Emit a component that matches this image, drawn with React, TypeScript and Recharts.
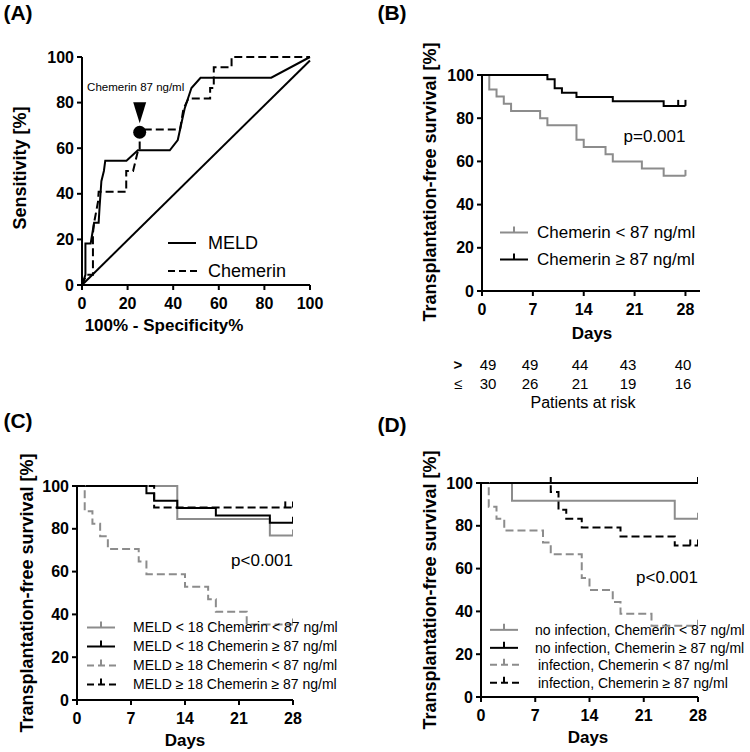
import {
  ComposedChart,
  Line,
  XAxis,
  YAxis,
  Scatter,
  ReferenceLine,
  ReferenceDot,
  Legend,
} from "recharts";

const FONT = "Arial, 'Liberation Sans', Helvetica, sans-serif";
const GRAY = "#8c8c8c";
const DASH = "8 4";

// (A) ROC curves, x = 100% - specificity, y = sensitivity
const meldFpr = [0, 1.5, 1.5, 3.8, 5.3, 7.3, 7.7, 8.5, 9.6, 10.2, 19.5, 24.5, 38.5, 42, 45, 48, 52, 83, 100];
const meldTpr = [0, 4.5, 18.2, 18.2, 27.3, 27.3, 34, 45.5, 50, 54.5, 54.5, 59.1, 59.1, 63.6, 77.3, 86.4, 90.9, 90.9, 100];
const chemFpr = [0, 2, 4.8, 4.8, 5.3, 7, 7.3, 19.4, 19.4, 22.4, 23.5, 24.6, 25.3, 25.3, 43, 44.5, 46.7, 56.2, 56.2, 57.8, 57.8, 65.6, 65.6, 100];
const chemTpr = [0, 4.5, 4.5, 22.7, 27.3, 36.4, 40.9, 40.9, 50, 50, 54.5, 59.1, 59.1, 68.2, 68.2, 77.3, 81.8, 81.8, 86.4, 86.4, 95.5, 95.5, 100, 100];
const cutoffFpr = [25.3];
const cutoffTpr = [67];
const rocTicks = [0, 20, 40, 60, 80, 100];

// (B) Kaplan-Meier by chemerin cut-off
const bLowDays = [0, 1, 2, 3, 4, 8, 9, 13, 14, 17, 18, 22, 25, 28];
const bLowSurv = [100, 93.3, 90, 86.7, 83.3, 80, 76.7, 70, 66.7, 63.3, 60, 56.7, 53.3, 53.3];
const bLowCensor = [28];
const bHighDays = [0, 9, 10, 11, 13, 18, 25, 27, 28];
const bHighSurv = [100, 98, 93.9, 91.8, 89.8, 87.8, 85.7, 85.7, 85.7];
const bHighCensor = [27, 28];
const riskAbove = [49, 49, 44, 43, 40];
const riskBelow = [30, 26, 21, 19, 16];

// (C) by MELD and chemerin
const c1Days = [0, 13, 25, 28];
const c1Surv = [100, 84.6, 76.9, 76.9];
const c2Days = [0, 9, 10, 13, 18, 25, 28];
const c2Surv = [100, 96.6, 93.1, 89.7, 86.2, 82.8, 82.8];
const c3Days = [0, 1, 2, 3, 4, 8, 9, 14, 17, 18, 22, 28];
const c3Surv = [100, 88.2, 82.4, 76.5, 70.6, 64.7, 58.8, 52.9, 47.1, 41.2, 35.3, 35.3];
const c4Days = [0, 10, 27, 28];
const c4Surv = [100, 90, 90, 90];

// (D) by infection and chemerin
const d1Days = [0, 4, 25, 28];
const d1Surv = [100, 91.7, 83.3, 83.3];
const d2Days = [0, 9, 28];
const d2Surv = [100, 100, 100];
const d3Days = [0, 1, 2, 3, 8, 9, 13, 14, 17, 18, 22, 28];
const d3Surv = [100, 88.9, 83.3, 77.8, 72.2, 66.7, 55.6, 50, 44.4, 38.9, 33.3, 33.3];
const d4Days = [0, 9, 10, 11, 13, 18, 25, 27, 28];
const d4Surv = [100, 95.8, 87.5, 83.3, 79.2, 75, 70.8, 70.8, 70.8];

const dayTicks = [0, 7, 14, 21, 28];
const survTicks = [0, 20, 40, 60, 80, 100];

type KmPoint = { day: number; s: number; c: boolean };

const toKm = (days: number[], surv: number[], censored: number[]): KmPoint[] =>
  days.map((d, i) => ({ day: d, s: surv[i], c: censored.includes(d) }));

const toRoc = (xs: number[], ys: number[]) => xs.map((x, i) => ({ x, y: ys[i] }));

const axisLine = { stroke: "#000", strokeWidth: 2 };
const tickStyle = { fill: "#000", fontSize: 16, fontWeight: 700, fontFamily: FONT };

type Series = { data: KmPoint[]; color: string; dashed?: boolean; label: string };

type LegendOpts = {
  left: number;
  top: number;
  rowHeight: number;
  fontSize: number;
  gap: number;
  tick: boolean;
  indent?: number[];
};

function renderLegend(items: { label: string; color: string; dashed?: boolean }[], o: LegendOpts) {
  return () => (
    <div style={{ fontFamily: FONT, fontSize: o.fontSize, color: "#000" }}>
      {items.map((it, i) => (
        <div key={it.label} style={{ display: "flex", alignItems: "center", height: o.rowHeight }}>
          <svg width={30} height={o.rowHeight} style={{ display: "block" }}>
            <line
              x1={0}
              x2={it.dashed ? 30 : 28}
              y1={o.rowHeight / 2}
              y2={o.rowHeight / 2}
              stroke={it.color}
              strokeWidth={2}
              strokeDasharray={it.dashed ? "7 4" : undefined}
            />
            {o.tick && (
              <line
                x1={14}
                x2={14}
                y1={o.rowHeight / 2}
                y2={o.rowHeight / 2 - 6}
                stroke={it.color}
                strokeWidth={2}
              />
            )}
          </svg>
          <span style={{ marginLeft: o.gap + (o.indent ? o.indent[i] : 0), whiteSpace: "nowrap", lineHeight: 1 }}>
            {it.label}
          </span>
        </div>
      ))}
    </div>
  );
}

const censorDot = (color: string) => (props: any) => {
  const { cx, cy, payload, index } = props;
  if (!payload || !payload.c) return <g key={`n-${index}`} />;
  return <line key={`c-${index}`} x1={cx} x2={cx} y1={cy} y2={cy - 6} stroke={color} strokeWidth={2} />;
};

function KmPanel(props: {
  left: number;
  top: number;
  width: number;
  height: number;
  margin: { top: number; right: number; bottom: number; left: number };
  xMax: number;
  series: Series[];
  pText: string;
  pY: number;
  legend: LegendOpts;
}) {
  const { left, top, width, height, margin, xMax, series, pText, pY, legend } = props;
  return (
    <div style={{ position: "absolute", left, top }}>
      <ComposedChart width={width} height={height} margin={margin}>
        <XAxis
          type="number"
          dataKey="day"
          domain={[0, xMax]}
          ticks={dayTicks}
          axisLine={axisLine}
          tickLine={axisLine}
          tickSize={5}
          tickMargin={8}
          tick={tickStyle}
          height={30}
          allowDataOverflow
        />
        <YAxis
          type="number"
          domain={[0, 100]}
          ticks={survTicks}
          axisLine={axisLine}
          tickLine={axisLine}
          tickSize={5}
          tickMargin={3}
          tick={tickStyle}
          width={50}
        />
        {series.map((s) => (
          <Line
            key={s.label}
            data={s.data}
            dataKey="s"
            type="stepAfter"
            stroke={s.color}
            strokeWidth={2}
            strokeDasharray={s.dashed ? DASH : undefined}
            dot={censorDot(s.color)}
            activeDot={false}
            isAnimationActive={false}
          />
        ))}
        <ReferenceDot
          x={28}
          y={pY}
          r={0}
          shape={(p: any) => (
            <text
              x={p.cx}
              y={p.cy}
              textAnchor="end"
              dominantBaseline="middle"
              fontFamily={FONT}
              fontSize={17}
              fill="#000"
            >
              {pText}
            </text>
          )}
        />
        <Legend
          layout="vertical"
          align="center"
          verticalAlign="middle"
          wrapperStyle={{ left: legend.left, top: legend.top, width: "auto" }}
          content={renderLegend(series, legend)}
        />
      </ComposedChart>
    </div>
  );
}

function RocPanel() {
  const meld = toRoc(meldFpr, meldTpr);
  const chem = toRoc(chemFpr, chemTpr);
  const cutoff = toRoc(cutoffFpr, cutoffTpr);
  return (
    <div style={{ position: "absolute", left: 0, top: 0 }}>
      <ComposedChart width={340} height={320} margin={{ top: 57, right: 30, bottom: 5, left: 32 }}>
        <XAxis
          type="number"
          dataKey="x"
          domain={[0, 100]}
          ticks={rocTicks}
          axisLine={axisLine}
          tickLine={axisLine}
          tickSize={5}
          tickMargin={8}
          tick={tickStyle}
          height={30}
        />
        <YAxis
          type="number"
          domain={[0, 100]}
          ticks={rocTicks}
          axisLine={axisLine}
          tickLine={axisLine}
          tickSize={5}
          tickMargin={3}
          tick={tickStyle}
          width={50}
        />
        <ReferenceLine
          segment={[
            { x: 0, y: 0 },
            { x: 100, y: 98.5 },
          ]}
          stroke="#000"
          strokeWidth={2}
        />
        <Line data={meld} dataKey="y" type="linear" stroke="#000" strokeWidth={2} dot={false} activeDot={false} isAnimationActive={false} />
        <Line
          data={chem}
          dataKey="y"
          type="linear"
          stroke="#000"
          strokeWidth={2}
          strokeDasharray={DASH}
          dot={false}
          activeDot={false}
          isAnimationActive={false}
        />
        <Scatter
          data={cutoff}
          dataKey="y"
          isAnimationActive={false}
          shape={(p: any) => <circle cx={p.cx} cy={p.cy} r={6.5} fill="#000" />}
        />
        <ReferenceDot
          x={cutoffFpr[0]}
          y={cutoffTpr[0]}
          r={0}
          shape={(p: any) => (
            <g>
              <path d={`M${p.cx - 6.5},${p.cy - 30} L${p.cx + 6.5},${p.cy - 30} L${p.cx},${p.cy - 9} Z`} fill="#000" />
              <text x={p.cx - 4} y={p.cy - 41.5} textAnchor="middle" fontFamily={FONT} fontSize={11.5} fill="#000">
                Chemerin 87 ng/ml
              </text>
            </g>
          )}
        />
        <Legend
          layout="vertical"
          align="center"
          verticalAlign="middle"
          wrapperStyle={{ left: 168, top: 229, width: "auto" }}
          content={renderLegend(
            [
              { label: "MELD", color: "#000" },
              { label: "Chemerin", color: "#000", dashed: true },
            ],
            { left: 168, top: 229, rowHeight: 28, fontSize: 18, gap: 10, tick: false }
          )}
        />
      </ComposedChart>
    </div>
  );
}

function Txt(props: { x: number; y: number; size: number; bold?: boolean; rotate?: boolean; children: any }) {
  return (
    <div
      style={{
        position: "absolute",
        left: props.x,
        top: props.y,
        transform: `translate(-50%, -50%)${props.rotate ? " rotate(-90deg)" : ""}`,
        whiteSpace: "nowrap",
        fontFamily: FONT,
        fontSize: props.size,
        fontWeight: props.bold ? 700 : 400,
        lineHeight: 1,
        color: "#000",
      }}
    >
      {props.children}
    </div>
  );
}

const riskCols = [488, 530, 580, 628, 683];

export default function App() {
  const ylab = "Transplantation-free survival [%]";
  return (
    <div style={{ position: "absolute", left: 0, top: 0, width: 750, height: 752, background: "#fff", overflow: "hidden" }}>
      <RocPanel />
      <KmPanel
        left={375}
        top={0}
        width={375}
        height={325}
        margin={{ top: 75, right: 50, bottom: 4, left: 57 }}
        xMax={30}
        pText="p=0.001"
        pY={71}
        series={[
          { data: toKm(bLowDays, bLowSurv, bLowCensor), color: GRAY, label: "Chemerin < 87 ng/ml" },
          { data: toKm(bHighDays, bHighSurv, bHighCensor), color: "#000", label: "Chemerin \u2265 87 ng/ml" },
        ]}
        legend={{ left: 125, top: 218.5, rowHeight: 27, fontSize: 17, gap: 7, tick: true }}
      />
      <KmPanel
        left={0}
        top={360}
        width={375}
        height={375}
        margin={{ top: 126, right: 82, bottom: 5, left: 27 }}
        xMax={28}
        pText="p<0.001"
        pY={64.5}
        series={[
          { data: toKm(c1Days, c1Surv, [28]), color: GRAY, label: "MELD < 18 Chemerin < 87 ng/ml" },
          { data: toKm(c2Days, c2Surv, [28]), color: "#000", label: "MELD < 18 Chemerin \u2265 87 ng/ml" },
          { data: toKm(c3Days, c3Surv, [28]), color: GRAY, dashed: true, label: "MELD \u2265 18 Chemerin < 87 ng/ml" },
          { data: toKm(c4Days, c4Surv, [27, 28]), color: "#000", dashed: true, label: "MELD \u2265 18 Chemerin \u2265 87 ng/ml" },
        ]}
        legend={{ left: 87, top: 257.5, rowHeight: 19, fontSize: 14, gap: 16, tick: true }}
      />
      <KmPanel
        left={375}
        top={360}
        width={375}
        height={375}
        margin={{ top: 123, right: 52, bottom: 8, left: 56 }}
        xMax={28}
        pText="p<0.001"
        pY={55.6}
        series={[
          { data: toKm(d1Days, d1Surv, [28]), color: GRAY, label: "no infection, Chemerin < 87 ng/ml" },
          { data: toKm(d2Days, d2Surv, [9, 28]), color: "#000", label: "no infection, Chemerin \u2265 87 ng/ml" },
          { data: toKm(d3Days, d3Surv, [28]), color: GRAY, dashed: true, label: "infection, Chemerin < 87 ng/ml" },
          { data: toKm(d4Days, d4Surv, [27, 28]), color: "#000", dashed: true, label: "infection, Chemerin \u2265 87 ng/ml" },
        ]}
        legend={{ left: 115, top: 261, rowHeight: 17.7, fontSize: 14, gap: 15, tick: true, indent: [0, 0, 3, 3] }}
      />

      <Txt x={18} y={12} size={21} bold>(A)</Txt>
      <Txt x={392} y={12} size={21} bold>(B)</Txt>
      <Txt x={18} y={420} size={21} bold>(C)</Txt>
      <Txt x={392} y={424} size={21} bold>(D)</Txt>

      <Txt x={20} y={168} size={18} bold rotate>Sensitivity [%]</Txt>
      <Txt x={164} y={325} size={17} bold>100% - Specificity%</Txt>

      <Txt x={430} y={182} size={18} bold rotate>{ylab}</Txt>
      <Txt x={592} y={333} size={17} bold>Days</Txt>
      <Txt x={458} y={364} size={15} bold>&gt;</Txt>
      <Txt x={458} y={383} size={15}>{"\u2264"}</Txt>
      {riskAbove.map((v, i) => (
        <Txt key={`a${i}`} x={riskCols[i]} y={364} size={15}>{v}</Txt>
      ))}
      {riskBelow.map((v, i) => (
        <Txt key={`b${i}`} x={riskCols[i]} y={383} size={15}>{v}</Txt>
      ))}
      <Txt x={583} y={403} size={16}>Patients at risk</Txt>

      <Txt x={27} y={593} size={18} bold rotate>{ylab}</Txt>
      <Txt x={185} y={740} size={17} bold>Days</Txt>
      <Txt x={430} y={590} size={18} bold rotate>{ylab}</Txt>
      <Txt x={588} y={737} size={17} bold>Days</Txt>
    </div>
  );
}
